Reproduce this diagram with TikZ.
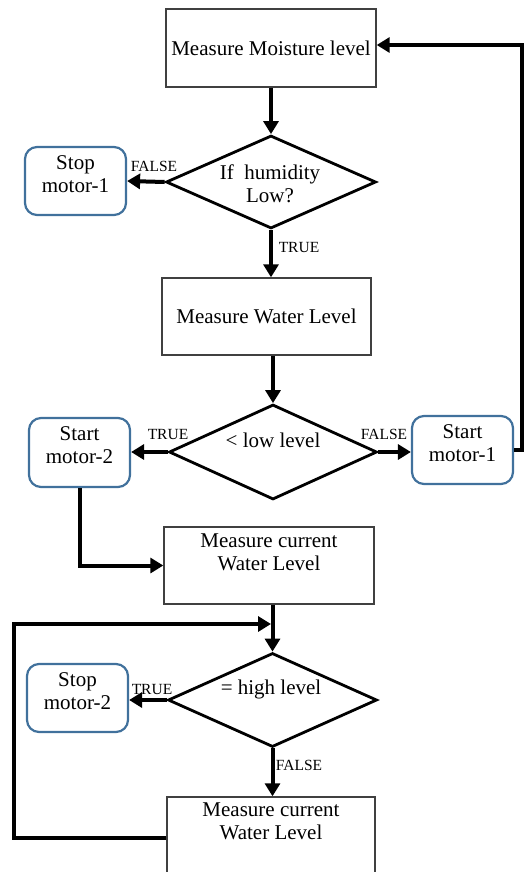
\documentclass[tikz,border=0pt]{standalone}
\usepackage{fontspec}
\setmainfont{Liberation Serif}
\usetikzlibrary{shapes.geometric,arrows.meta}
\definecolor{blueb}{RGB}{65,113,156}
\begin{document}
\begin{tikzpicture}[x=1pt,y=-1pt,
  every node/.style={font=\fontsize{21}{23.5}\selectfont},
  procbox/.style={draw=black!75, line width=1.4pt, inner sep=0pt, align=center},
  decision/.style={diamond, draw, line width=2.8pt, inner sep=0pt},
  endbox/.style={draw=blueb, line width=2.2pt, rounded corners=12pt, inner sep=0pt},
  flow/.style={line width=4pt, -{Triangle[length=13pt,width=15pt]}},
  lbl/.style={font=\fontsize{15.5}{15.5}\selectfont, inner sep=0pt},
  dtext/.style={inner sep=0pt, align=center}]
\useasboundingbox (0,0) rectangle (530,872);
\clip (0,0) rectangle (530,872);

% nodes
\node[procbox, minimum width=210pt, minimum height=78pt] (box1) at (271,48) {Measure Moisture level};
\node[decision, minimum width=210pt, minimum height=93pt] (d1) at (271,182) {};
\node[dtext] (d1t) at (270,184) {If\ \ humidity\\Low?};
\node[endbox, minimum width=101pt, minimum height=68pt] (stop1) at (75.5,181) {};
\node[dtext] (stop1t) at (75.5,174) {Stop\\motor-1};

\node[procbox, minimum width=209pt, minimum height=77pt] (box2) at (266.5,316.5) {Measure Water Level};
\node[decision, minimum width=208pt, minimum height=95pt] (d2) at (273,452) {};
\node[dtext] (d2t) at (273,440) {< low level};
\node[endbox, minimum width=101pt, minimum height=69pt] (m2) at (79.5,452.5) {};
\node[dtext] (m2t) at (79.5,445) {Start\\motor-2};
\node[endbox, minimum width=101pt, minimum height=68pt] (m1) at (462.5,450) {};
\node[dtext] (m1t) at (462.5,443) {Start\\motor-1};

\node[procbox, minimum width=210pt, minimum height=77pt] (box3) at (269,565.5) {};
\node[dtext, anchor=north] (box3t) at ([yshift=-7pt]box3.north) {Measure current\\Water Level};
\node[decision, minimum width=209pt, minimum height=94pt] (d3) at (272.5,700) {};
\node[dtext] (d3t) at (271,689) {= high level};
\node[endbox, minimum width=101pt, minimum height=68pt] (stop2) at (77.5,698) {};
\node[dtext] (stop2t) at (77.5,691) {Stop\\motor-2};
\node[procbox, minimum width=208pt, minimum height=82pt] (box4) at (271,838) {};
\node[dtext, anchor=north] (box4t) at ([yshift=-6pt]box4.north) {Measure current\\Water Level};

% labels
\node[lbl] (lf1) at (154,166) {FALSE};
\node[lbl] (lt1) at (299,247) {TRUE};
\node[lbl] (lt2) at (168,434) {TRUE};
\node[lbl] (lf2) at (384,434) {FALSE};
\node[lbl] (lt3) at (152,689) {TRUE};
\node[lbl] (lf3) at (299,765) {FALSE};

% coordinates
\coordinate (rt) at (522,45);
\coordinate (lp) at (14,624);
\coordinate (mj) at (271,624);

% connectors
\draw[flow] (box1.south -| d1.north) -- (d1.north);
\draw[flow] (d1.west) -- (stop1.east);
\draw[flow] (d1.south) -- (d1.south |- box2.north);
\draw[flow] (box2.south -| d2.north) -- (d2.north);
\draw[flow] (d2.west) -- (d2.west -| m2.east);
\draw[flow] (d2.east) -- (d2.east -| m1.west);
\draw[flow] (m1.east) -| (rt) -- (rt -| box1.east);
\draw[flow] (m2.south) |- (box3.west);
\draw[flow] (box3.south -| d3.north) -- (d3.north);
\draw[flow] (d3.west) -- (d3.west -| stop2.east);
\draw[flow] (d3.south) -- (d3.south |- box4.north);
\draw[flow] (box4.west) -| (lp) -- (mj);
\end{tikzpicture}
\end{document}
